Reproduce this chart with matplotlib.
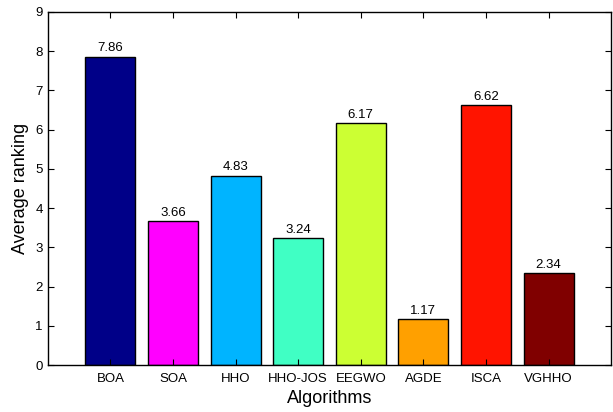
import matplotlib
matplotlib.use('Agg')
import matplotlib.pyplot as plt

# Data
algorithms = ['BOA', 'SOA', 'HHO', 'HHO-JOS', 'EEGWO', 'AGDE', 'ISCA', 'VGHHO']
rankings = [7.86, 3.66, 4.83, 3.24, 6.17, 1.17, 6.62, 2.34]
colors = ['#000088', '#FF00FF', '#00B4FF', '#40FFC4', '#CCFF33', '#FFA000', '#FF1400', '#800000']

plt.rcParams['font.family'] = ['Liberation Sans', 'DejaVu Sans']

fig = plt.figure(figsize=(6.13, 4.12), dpi=100)
ax = fig.add_axes([0.078, 0.114, 0.919, 0.857])

positions = list(range(1, len(algorithms) + 1))
ax.bar(positions, rankings, width=0.8, color=colors, edgecolor='black', linewidth=1)

for x, v in zip(positions, rankings):
    ax.text(x, v + 0.06, f'{v:.2f}', ha='center', va='bottom', fontsize=9.5)

ax.set_xlim(0, 9)
ax.set_ylim(0, 9)
ax.set_xticks(positions)
ax.set_xticklabels(algorithms, fontsize=9.5)
ax.set_yticks(range(0, 10))
ax.tick_params(axis='y', labelsize=9.5)
ax.tick_params(axis='x', pad=6)
ax.tick_params(direction='in', top=True, right=True, length=4, width=0.8)
ax.set_xlabel('Algorithms', fontsize=13, labelpad=3)
ax.set_ylabel('Average ranking', fontsize=13, labelpad=5)

for s in ax.spines.values():
    s.set_linewidth(1)

fig.savefig('out.png', dpi=100)
